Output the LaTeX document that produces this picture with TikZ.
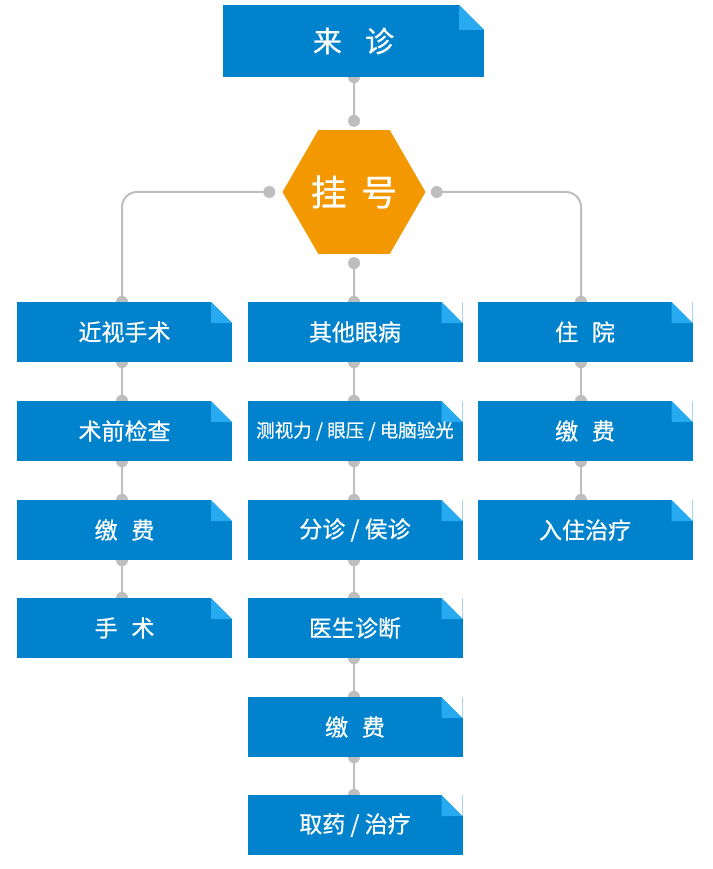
\documentclass[tikz,border=0pt]{standalone}
\usepackage{fontspec}
\newfontfamily\cjk[FakeBold=0.6]{Noto Sans CJK SC}
\usetikzlibrary{shapes.geometric,backgrounds,calc}
\definecolor{cblue}{RGB}{0,130,204}
\definecolor{clight}{RGB}{40,170,240}
\definecolor{corange}{RGB}{243,152,0}
\definecolor{cgray}{RGB}{190,190,190}
\tikzset{
  fold/.style={path picture={
    \fill[white] ([xshift=-#1]path picture bounding box.north east) -- (path picture bounding box.north east) -- ([yshift=-#1]path picture bounding box.north east) -- cycle;
    \fill[clight] ([xshift=-#1]path picture bounding box.north east) -- ([xshift=-#1,yshift=-#1]path picture bounding box.north east) -- ([yshift=-#1]path picture bounding box.north east) -- cycle;
  }},
  card/.style={rectangle, fill=cblue, inner sep=0pt, minimum width=215pt, minimum height=60pt,
    text=white, font=\cjk\fontsize{23}{23}\selectfont, fold=21pt},
  conn/.style={draw=cgray, line width=2pt},
  dotc/.style={fill=cgray}
}
\begin{document}
\begin{tikzpicture}[x=1pt,y=-1pt]
\useasboundingbox (0,0) rectangle (712,869);
% top
\node[card, minimum width=261pt, minimum height=72pt, fold=25pt, font=\cjk\fontsize{29}{29}\selectfont] (top) at (353.5,41) {来\hspace{0.8em}诊};
\node[regular polygon, regular polygon sides=6, minimum size=143pt, inner sep=0pt, fill=corange, text=white, font=\cjk\fontsize{36}{36}\selectfont] (hex) at (354,192) {挂\hspace{0.4em}号};
% left column
\node[card] (L1) at (124.5,332) {近视手术};
\node[card] (L2) at (124.5,431) {术前检查};
\node[card] (L3) at (124.5,530) {缴\hspace{0.6em}费};
\node[card] (L4) at (124.5,628) {手\hspace{0.6em}术};
% middle column
\node[card] (M1) at (355,332) {其他眼病};
\node[card, font=\cjk\fontsize{18.5}{18.5}\selectfont] (M2) at (355,431) {测视力 / 眼压 / 电脑验光};
\node[card] (M3) at (355,530) {分诊 / 侯诊};
\node[card] (M4) at (355,628) {医生诊断};
\node[card] (M5) at (355,727) {缴\hspace{0.6em}费};
\node[card] (M6) at (355,825) {取药 / 治疗};
% right column
\node[card] (R1) at (585,332) {住\hspace{0.6em}院};
\node[card] (R2) at (585,431) {缴\hspace{0.6em}费};
\node[card] (R3) at (585,530) {入住治疗};
\begin{scope}[on background layer]
  \coordinate (hT) at ([yshift=9pt]hex.north);
  \coordinate (hB) at ([yshift=-9pt]hex.south);
  \coordinate (hL) at ([xshift=-13pt]hex.west);
  \coordinate (hR) at ([xshift=11pt]hex.east);
  \coordinate (topS) at ([xshift=0.5pt]top.south);
  \draw[conn] (topS) -- (hT);
  \fill[dotc] (topS) circle (6pt) (hT) circle (6pt);
  \draw[conn, rounded corners=15pt] (hL) -| ([xshift=-2.5pt]L1.north);
  \draw[conn, rounded corners=15pt] (hR) -| ([xshift=-4pt]R1.north);
  \draw[conn] (hB) -- ([xshift=-1pt]M1.north);
  \fill[dotc] (hL) circle (6pt) (hR) circle (6pt) (hB) circle (6pt)
    ([xshift=-2.5pt]L1.north) circle (6pt) ([xshift=-4pt]R1.north) circle (6pt) ([xshift=-1pt]M1.north) circle (6pt);
  \foreach \a/\b/\s in {L1/L2/-2.5pt, L2/L3/-2.5pt, L3/L4/-2.5pt,
      M1/M2/-1pt, M2/M3/-1pt, M3/M4/-1pt, M4/M5/-1pt, M5/M6/-1pt,
      R1/R2/-4pt, R2/R3/-4pt} {
    \draw[conn] ([xshift=\s]\a.south) -- ([xshift=\s]\b.north);
    \fill[dotc] ([xshift=\s]\a.south) circle (6pt) ([xshift=\s]\b.north) circle (6pt);
  }
\end{scope}
\end{tikzpicture}
\end{document}
